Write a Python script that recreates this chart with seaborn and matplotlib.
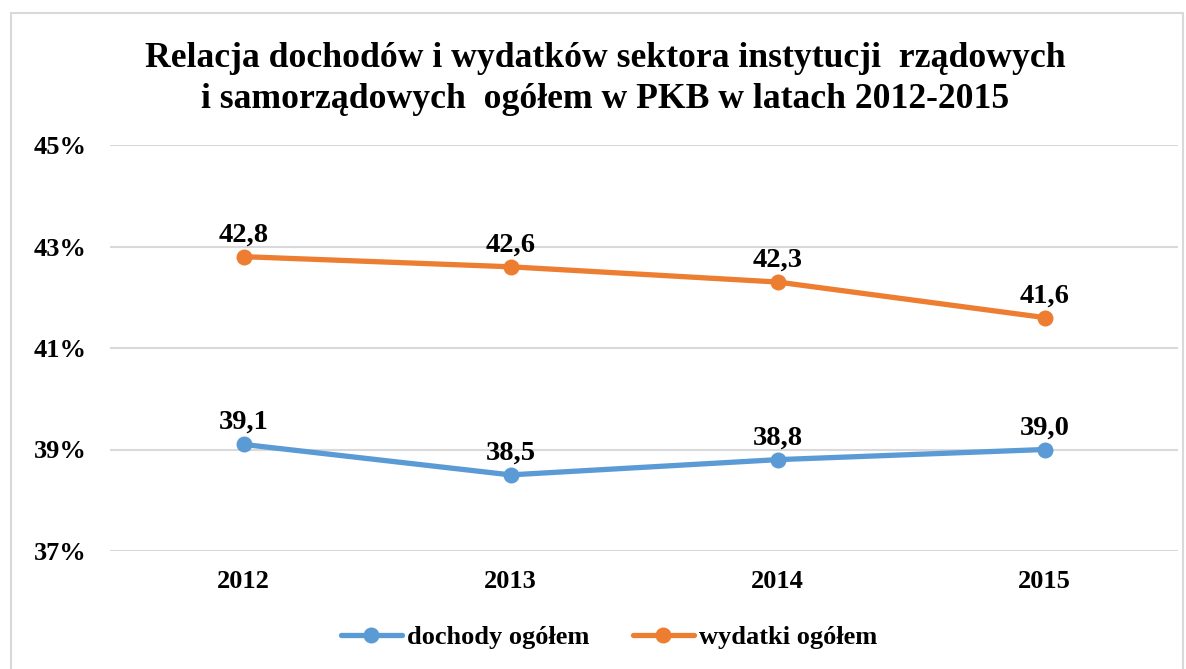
import matplotlib
matplotlib.use("Agg")
import matplotlib.pyplot as plt
import seaborn as sns
import pandas as pd
from matplotlib.patches import Rectangle
from matplotlib.lines import Line2D

years = ["2012", "2013", "2014", "2015"]
dochody = [39.1, 38.5, 38.8, 39.0]
wydatki = [42.8, 42.6, 42.3, 41.6]
series_names = ["dochody ogółem", "wydatki ogółem"]
colors = ["#5B9BD5", "#ED7D31"]
yticks = [37, 39, 41, 43, 45]
title = "Relacja dochodów i wydatków sektora instytucji  rządowych\ni samorządowych  ogółem w PKB w latach 2012-2015"

df = pd.DataFrame({
    "rok": years * 2,
    "wartosc": dochody + wydatki,
    "seria": [series_names[0]] * 4 + [series_names[1]] * 4,
})

sns.set_theme(style="white")
plt.rcParams['font.family'] = ['Liberation Serif', 'DejaVu Serif']
plt.rcParams['font.weight'] = 'bold'
plt.rcParams['text.color'] = 'black'
plt.rcParams['xtick.color'] = 'black'
plt.rcParams['ytick.color'] = 'black'

fig = plt.figure(figsize=(11.86, 6.69), dpi=100)
W, H = 1186, 669
ax = fig.add_axes([110 / W, 1 - 551 / H, (1178 - 110) / W, (551 - 145) / H])

sns.lineplot(data=df, x="rok", y="wartosc", hue="seria", palette=colors,
             marker="o", markersize=11.5, linewidth=3.8, markeredgewidth=0,
             sort=False, legend=False, ax=ax)

for name, vals in zip(series_names, [dochody, wydatki]):
    for i, v in enumerate(vals):
        ax.annotate(f"{v:.1f}".replace(".", ","), (i, v), xytext=(0, 11),
                    textcoords="offset points", ha="center", va="baseline",
                    fontsize=20.5, fontweight="bold", color="black")

ax.set_xlim(-0.5, 3.5)
ax.set_ylim(37, 45)
ax.set_yticks(yticks)
ax.set_yticklabels([f"{t}%" for t in yticks], fontsize=19, fontweight="bold")
ax.set_xticks(range(len(years)))
ax.set_xticklabels(years, fontsize=19, fontweight="bold")
ax.tick_params(axis="y", length=0, pad=17)
ax.tick_params(axis="x", length=0, pad=14)
ax.set_xlabel("")
ax.set_ylabel("")
ax.grid(axis="y", color="#D9D9D9", linewidth=1.5)
ax.grid(axis="x", visible=False)
for s in ax.spines.values():
    s.set_visible(False)
ax.set_axisbelow(True)

fig.text(605 / W, 1 - 79 / H, title, ha="center", va="center",
         fontsize=25.7, fontweight="bold", linespacing=1.3, color="black")

handles = [Line2D([0], [0], color=c, linewidth=3.8, marker="o", markersize=11.5,
                  markeredgewidth=0) for c in colors]
fig.legend(handles, series_names, loc="center", bbox_to_anchor=(609 / W, 1 - 637 / H),
           ncol=2, frameon=False, handlelength=2.3,
           columnspacing=1.65, handletextpad=0.2,
           prop={"weight": "bold", "size": 19})

fig.patches.append(Rectangle((11 / W, -0.05), (1183 - 11) / W, 1.05 - 13 / H,
                             transform=fig.transFigure, fill=False,
                             edgecolor="#D9D9D9", linewidth=1.5))

fig.savefig("out.png", dpi=100, facecolor="white")
